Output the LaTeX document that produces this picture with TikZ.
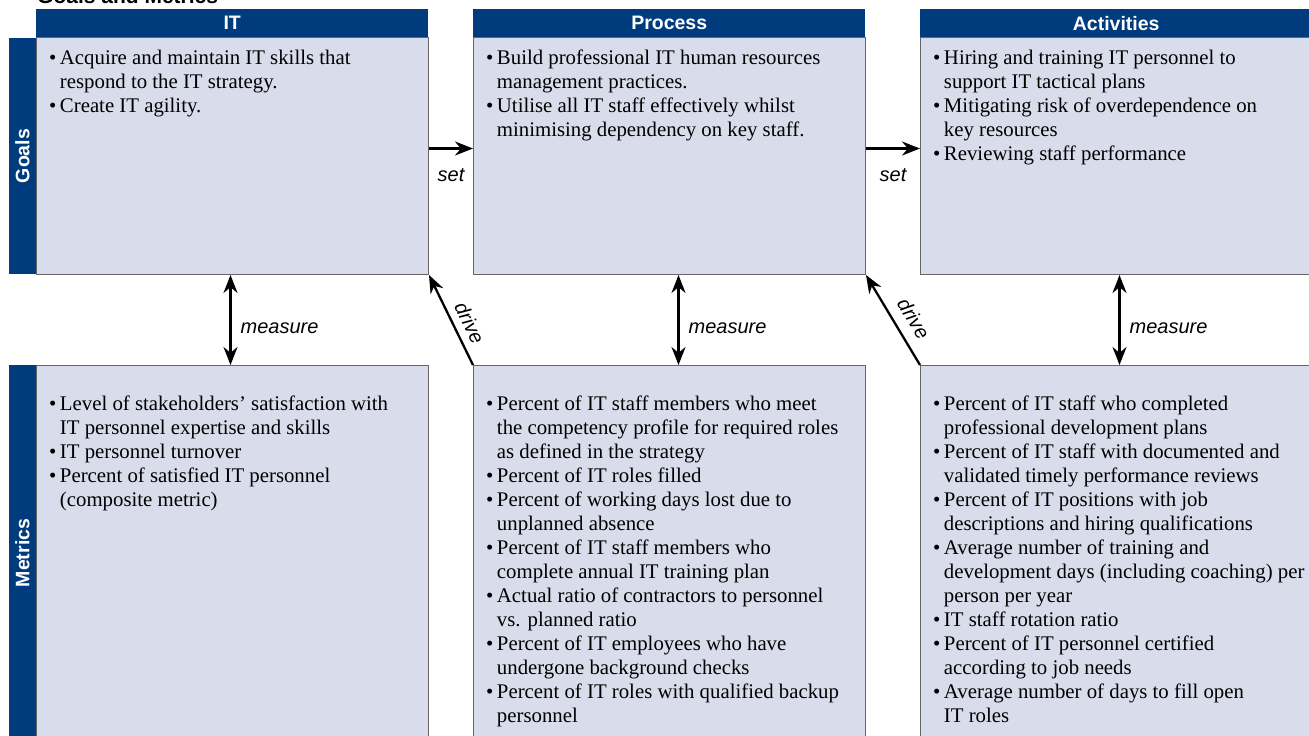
\documentclass[tikz,border=0pt]{standalone}
\usepackage{fontspec}
\setmainfont{Liberation Serif}
\setsansfont{Liberation Sans}
\usetikzlibrary{arrows.meta, positioning}
\definecolor{hdrblue}{RGB}{0,60,125}
\definecolor{boxfill}{RGB}{217,220,235}
\newcommand{\bl}{\textbullet}
\newenvironment{blist}{\begin{tabular}{@{}l@{\hspace{3.5pt}}l@{}}}{\end{tabular}}

\begin{document}
\begin{tikzpicture}[x=1pt, y=-1pt,
    hdr/.style={fill=hdrblue, text=white, font=\fontsize{19.5}{22}\selectfont\sffamily\bfseries, minimum width=392pt, minimum height=28pt, inner sep=0pt, anchor=north west},
    side/.style={fill=hdrblue, text=white, font=\fontsize{19.5}{22}\selectfont\sffamily\bfseries, rotate=90, minimum height=27pt, inner sep=0pt},
    panel/.style={draw=black!60, line width=1pt, fill=boxfill, minimum width=392pt, inner sep=0pt, anchor=north west},
    txt/.style={font=\fontsize{20.8}{24}\selectfont, inner sep=0pt, anchor=north west},
    lbl/.style={font=\fontsize{20}{24}\selectfont\sffamily\itshape, inner sep=1pt},
    arrow/.style={-{Stealth[length=18pt, width=14pt]}, line width=2.3pt},
    darrow/.style={{Stealth[length=18pt, width=14pt]}-{Stealth[length=18pt, width=14pt]}, line width=2.3pt}
]
    \useasboundingbox (0,0) rectangle (1309,736);
    \node[anchor=base west, inner sep=0pt, font=\fontsize{21}{24}\selectfont\sffamily\bfseries] (title) at (37,4) {Goals and Metrics};

    % goal boxes
    \node[panel, minimum height=237pt] (gIT) at (36,37) {};
    \node[panel, minimum height=237pt] (gP) at (473,37) {};
    \node[panel, minimum height=237pt] (gA) at (920,37) {};
    % metric boxes
    \node[panel, minimum height=380pt] (mIT) at (36,365) {};
    \node[panel, minimum height=380pt] (mP) at (473,365) {};
    \node[panel, minimum height=380pt] (mA) at (920,365) {};

    \node[hdr] (hIT) at (36,9) {IT};
    \node[hdr] (hP) at (473,9) {Process};
    \node[hdr] (hA) at (920,9) {Activities};
    \node[side, minimum width=236pt] (sG) at (22.5,156) {Goals};
    \node[side, minimum width=376pt] (sM) at (22.5,553) {Metrics};

    \node[txt] (tgIT) at ([xshift=13pt, yshift=-10pt]gIT.north west) {\begin{blist}
        \bl & Acquire and maintain IT skills that\\
            & respond to the IT strategy.\\
        \bl & Create IT agility.
    \end{blist}};
    \node[txt] (tgP) at ([xshift=13pt, yshift=-10pt]gP.north west) {\begin{blist}
        \bl & Build professional IT human resources\\
            & management practices.\\
        \bl & Utilise all IT staff effectively whilst\\
            & minimising dependency on key staff.
    \end{blist}};
    \node[txt] (tgA) at ([xshift=13pt, yshift=-10pt]gA.north west) {\begin{blist}
        \bl & Hiring and training IT personnel to\\
            & support IT tactical plans\\
        \bl & Mitigating risk of overdependence on\\
            & key resources\\
        \bl & Reviewing staff performance
    \end{blist}};

    \node[txt] (tmIT) at ([xshift=13pt, yshift=-28.5pt]mIT.north west) {\begin{blist}
        \bl & Level of stakeholders' satisfaction with\\
            & IT personnel expertise and skills\\
        \bl & IT personnel turnover\\
        \bl & Percent of satisfied IT personnel\\
            & (composite metric)
    \end{blist}};
    \node[txt] (tmP) at ([xshift=13pt, yshift=-28.5pt]mP.north west) {\begin{blist}
        \bl & Percent of IT staff members who meet\\
            & the competency profile for required roles\\
            & as defined in the strategy\\
        \bl & Percent of IT roles filled\\
        \bl & Percent of working days lost due to\\
            & unplanned absence\\
        \bl & Percent of IT staff members who\\
            & complete annual IT training plan\\
        \bl & Actual ratio of contractors to personnel\\
            & vs. planned ratio\\
        \bl & Percent of IT employees who have\\
            & undergone background checks\\
        \bl & Percent of IT roles with qualified backup\\
            & personnel
    \end{blist}};
    \node[txt] (tmA) at ([xshift=13pt, yshift=-28.5pt]mA.north west) {\begin{blist}
        \bl & Percent of IT staff who completed\\
            & professional development plans\\
        \bl & Percent of IT staff with documented and\\
            & validated timely performance reviews\\
        \bl & Percent of IT positions with job\\
            & descriptions and hiring qualifications\\
        \bl & Average number of training and\\
            & development days (including coaching) per\\
            & person per year\\
        \bl & IT staff rotation ratio\\
        \bl & Percent of IT personnel certified\\
            & according to job needs\\
        \bl & Average number of days to fill open\\
            & IT roles
    \end{blist}};

    % connectors
    \draw[arrow] ([yshift=7.5pt]gIT.east) -- node[lbl, below=18pt] {set} ([yshift=7.5pt]gP.west);
    \draw[arrow] ([yshift=7.5pt]gP.east) -- node[lbl, below=18pt] {set} ([yshift=7.5pt]gA.west);
    \draw[darrow] ([xshift=-2pt]gIT.south) -- node[lbl, pos=0.59, right=8pt] {measure} ([xshift=-2pt]mIT.north);
    \draw[darrow] ([xshift=9pt]gP.south) -- node[lbl, pos=0.59, right=8pt] {measure} ([xshift=9pt]mP.north);
    \draw[darrow] ([xshift=3pt]gA.south) -- node[lbl, pos=0.59, right=8pt] {measure} ([xshift=3pt]mA.north);
    \draw[arrow] (mP.north west) -- node[lbl, sloped, pos=0.39, above=6pt] {drive} (gIT.south east);
    \draw[arrow] (mA.north west) -- node[lbl, sloped, pos=0.41, above=9pt] {drive} (gP.south east);
\end{tikzpicture}
\end{document}
